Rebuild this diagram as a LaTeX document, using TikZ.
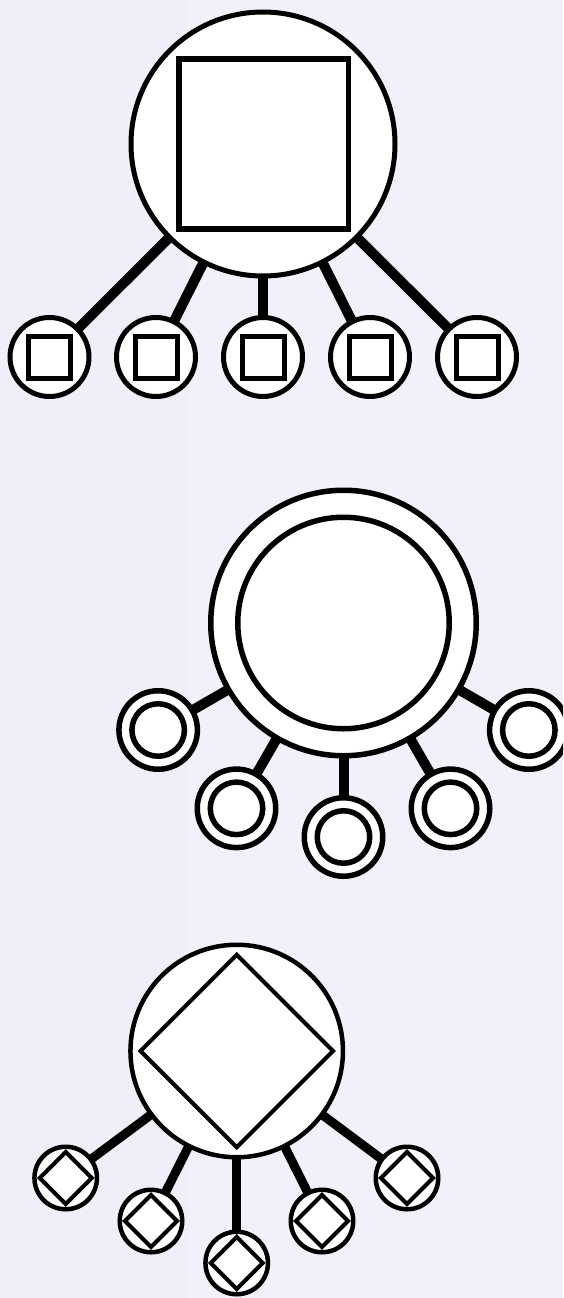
\documentclass[tikz,border=0pt]{standalone}
\usetikzlibrary{shapes.geometric,calc}
\definecolor{bgR}{HTML}{F1F1FB}
\definecolor{bgL}{HTML}{EFEFF9}
\tikzset{
  every node/.style={inner sep=0pt, outer sep=0pt, fill=white, draw=black},
  bigcirc/.style={circle, line width=5pt, minimum size=264pt},
  bigsq/.style={rectangle, line width=5.5pt, minimum size=169.5pt},
  smcirc/.style={circle, line width=5pt, minimum size=79pt},
  smsq/.style={rectangle, line width=5pt, minimum size=42pt},
  dblout/.style={circle, line width=5.5pt, minimum size=265.5pt},
  dblin/.style={circle, line width=5.5pt, minimum size=211.5pt},
  dsout/.style={circle, line width=5.5pt, minimum size=78.5pt},
  dsin/.style={circle, line width=5.5pt, minimum size=52.5pt},
  dmcirc/.style={circle, line width=4.5pt, minimum size=212.5pt},
  dmbig/.style={diamond, aspect=1, line width=4pt, minimum size=192.5pt},
  dscirc/.style={circle, line width=4.5pt, minimum size=62.5pt},
  dssm/.style={diamond, aspect=1, line width=4pt, minimum size=52pt},
  linkA/.style={line width=10pt},
  linkB/.style={line width=10pt},
  linkC/.style={line width=9pt},
}
\begin{document}
\begin{tikzpicture}[x=1pt,y=-1pt]
\fill[bgR] (0,0) rectangle (563,1298);
\fill[bgL] (0,0) rectangle (188,1298);
\useasboundingbox (0,0) rectangle (563,1298);
\clip (0,0) rectangle (563,1298);
% ---- diagram 1
\node[bigcirc] (A) at (263,144) {};
\node[bigsq] (Asq) at (263.5,144) {};
\foreach \i/\x in {1/49.5,2/156,3/263,4/370,5/477}{
  \node[smcirc] (a\i) at (\x,357) {};
  \node[smsq] (as\i) at (\x,357) {};
}
\foreach \i in {1,...,5}{ \draw[linkA] (A) -- (a\i); }
% ---- diagram 2
\node[dblout] (B) at (343.5,623) {};
\node[dblin] (Bin) at (343.5,623) {};
\foreach \i/\ang in {1/210,2/240,3/270,4/300,5/330}{
  \node[dsout] (b\i) at ($(343.5,623)+(-\ang:214)$) {};
  \node[dsin] (bi\i) at (b\i) {};
}
\foreach \i in {1,...,5}{ \draw[linkB] (B) -- (b\i); }
% ---- diagram 3
\node[dmcirc] (C) at (236.7,1051) {};
\node[dmbig] (Cd) at (236.7,1051) {};
\foreach \i/\x/\y in {1/65.7/1178,2/151/1221,3/236.7/1263,4/322/1221,5/407/1178}{
  \node[dscirc] (c\i) at (\x,\y) {};
  \node[dssm] (cd\i) at (\x,\y) {};
}
\foreach \i in {1,...,5}{ \draw[linkC] (C) -- (c\i); }
\end{tikzpicture}
\end{document}
